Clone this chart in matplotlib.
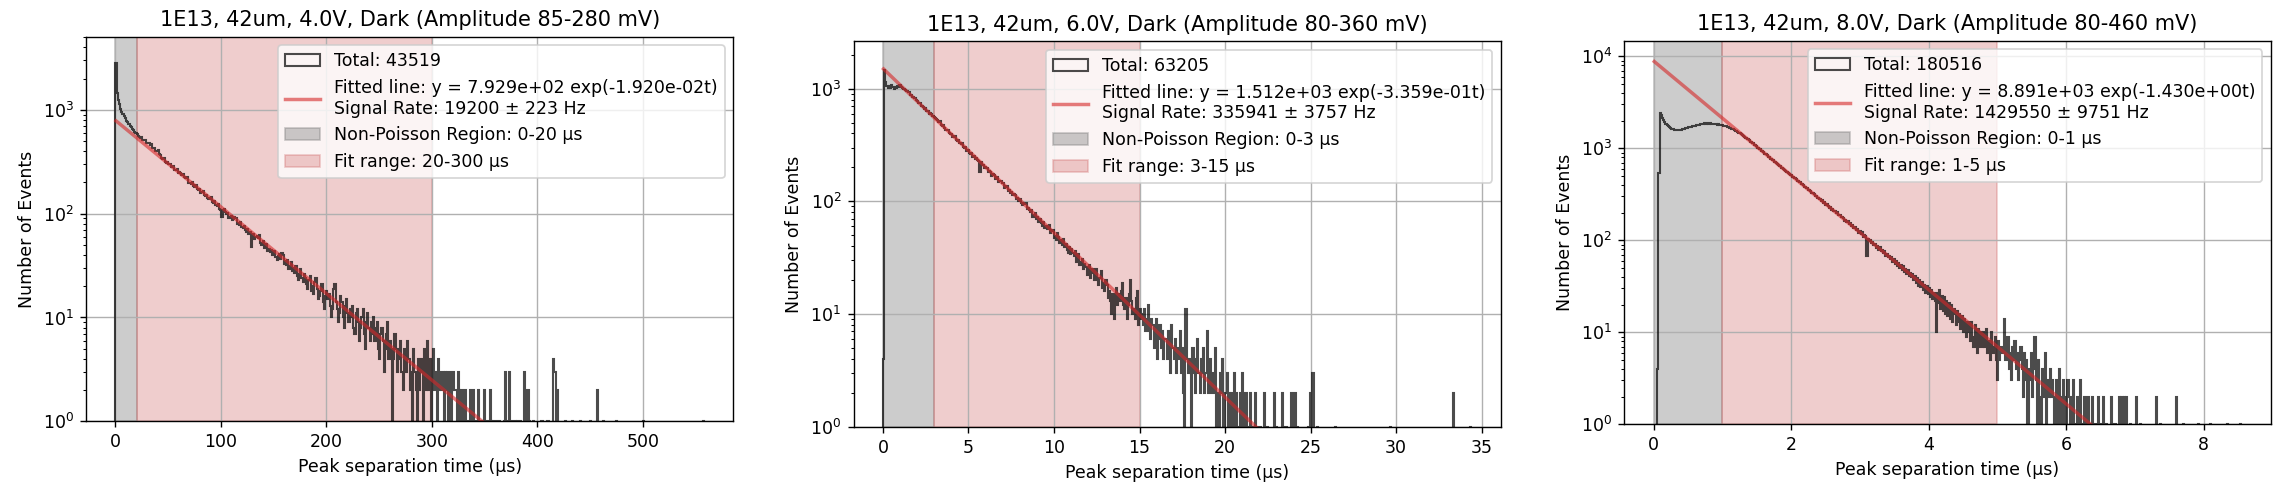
import numpy as np
import matplotlib
matplotlib.use("Agg")
import matplotlib.pyplot as plt

# ---------------- data ----------------
titles = [
    "1E13, 42um, 4.0V, Dark (Amplitude 85-280 mV)",
    "1E13, 42um, 6.0V, Dark (Amplitude 80-360 mV)",
    "1E13, 42um, 8.0V, Dark (Amplitude 80-460 mV)",
]
x_max = [558.0, 34.4, 8.55]          # upper edge of histogram range (µs)
totals = [43519, 63205, 180516]
fit_amp = [7.929e2, 1.512e3, 8.891e3]
fit_rate = [1.920e-2, 3.359e-1, 1.430e0]
rate_hz = [19200, 335941, 1429550]
rate_err = [223, 3757, 9751]
nonpoisson = [(0, 20), (0, 3), (0, 1)]
fit_range = [(20, 300), (3, 15), (1, 5)]
y_top = [5070, 2630, 14800]

counts_4V = [
    2850, 1460, 1240, 1130, 1020, 960, 905, 870, 830, 790, 760, 735, 700, 680, 655, 640, 615, 600, 585, 560,
    545, 541, 548, 512, 509, 515, 478, 481, 476, 462, 466, 431, 428, 434, 405, 401, 409, 372, 369, 345,
    338, 341, 312, 309, 315, 298, 301, 282, 279, 286, 266, 262, 269, 247, 251, 244, 238, 241, 226, 221,
    219, 224, 196, 199, 194, 201, 184, 181, 188, 172, 169, 174, 159, 162, 166, 151, 148, 153, 141, 138,
    143, 146, 129, 127, 132, 121, 118, 123, 112, 109, 92, 108, 111, 103, 99, 101, 90, 93, 96, 86,
    89, 93, 91, 79, 81, 77, 83, 74, 72, 76, 69, 67, 71, 64, 66, 48, 62, 64, 57, 59,
    61, 58, 63, 52, 50, 54, 47, 49, 51, 44, 46, 43, 45, 40, 42, 44, 38, 36, 39, 41,
    37, 42, 40, 33, 35, 32, 36, 29, 31, 34, 28, 30, 27, 31, 25, 23, 26, 29, 24, 22,
    26, 24, 21, 19, 23, 25, 18, 20, 17, 22, 24, 19, 15, 16, 18, 21, 14, 12, 16, 18,
    15, 17, 13, 10, 12, 19, 21, 14, 12, 9, 11, 16, 14, 10, 8, 13, 15, 11, 9, 12,
    10, 13, 8, 7, 11, 12, 9, 6, 8, 10, 12, 7, 5, 9, 11, 8, 6, 9, 7, 10,
    6, 8, 9, 5, 4, 7, 8, 6, 3, 5, 7, 9, 4, 6, 5, 0, 4, 7, 5, 3,
    5, 4, 6, 3, 2, 5, 4, 3, 6, 4, 2, 3, 0, 5, 3, 2, 0, 4, 2, 3,
    4, 1, 5, 3, 2, 6, 2, 4, 1, 3, 5, 2, 3, 1, 4, 2, 3, 2, 3, 1,
    3, 2, 3, 0, 3, 0, 2, 3, 2, 2, 1, 3, 2, 1, 2, 0, 1, 2, 1, 1,
    1, 2, 1, 1, 2, 1, 0, 1, 2, 1, 0, 1, 1, 2, 0, 1, 1, 0, 2, 1,
    0, 1, 0, 1, 0, 0, 1, 0, 0, 0, 1, 3, 0, 1, 3, 0, 1, 0, 0, 1,
    0, 1, 0, 0, 1, 0, 0, 3, 0, 0, 2, 1, 0, 0, 0, 1, 0, 0, 0, 0,
    0, 0, 1, 0, 0, 0, 0, 1, 0, 0, 0, 0, 4, 3, 0, 2, 0, 0, 0, 0,
    0, 0, 1, 0, 0, 0, 0, 0, 1, 0, 0, 0, 0, 0, 0, 1, 0, 0, 0, 0,
    0, 0, 0, 1, 0, 0, 0, 0, 0, 2, 0, 0, 0, 0, 1, 0, 0, 0, 0, 0,
    0, 0, 0, 0, 0, 1, 0, 0, 0, 0, 0, 0, 0, 0, 0, 0, 0, 0, 0, 0,
    0, 0, 0, 0, 0, 0, 0, 0, 1, 0, 0, 0, 0, 0, 0, 0, 0, 0, 0, 0,
    0, 0, 0, 0, 0, 0, 0, 0, 0, 0, 0, 0, 0, 0, 0, 0, 0, 0, 0, 0,
    0, 0, 0, 0, 0, 0, 0, 0, 0, 0, 0, 0, 0, 0, 0, 0, 0, 0, 0, 1,
]

counts_6V = [
    4, 1460, 1150, 1060, 1020, 1045, 1010, 1070, 1030, 995, 1040, 1005, 1060, 1025, 1080, 1035, 1010, 990, 1000, 965,
    948, 931, 925, 872, 869, 851, 823, 820, 788, 774, 752, 749, 708, 702, 689, 661, 668, 631, 628, 600,
    604, 598, 569, 561, 552, 539, 522, 509, 515, 472, 468, 478, 447, 429, 432, 426, 401, 397, 399, 371,
    381, 376, 349, 345, 352, 327, 321, 330, 305, 298, 302, 281, 285, 271, 262, 268, 249, 253, 239, 244,
    231, 228, 181, 222, 208, 211, 196, 201, 198, 183, 187, 181, 168, 173, 170, 158, 161, 166, 149, 152,
    151, 145, 146, 131, 133, 136, 124, 127, 119, 122, 113, 117, 114, 104, 107, 101, 104, 96, 92, 97,
    94, 96, 85, 87, 83, 80, 84, 73, 76, 78, 70, 72, 66, 69, 64, 60, 65, 58, 61, 57,
    59, 62, 52, 54, 56, 47, 49, 45, 52, 48, 43, 45, 41, 46, 39, 42, 37, 35, 39, 34,
    38, 35, 33, 36, 29, 31, 34, 27, 29, 31, 25, 28, 26, 22, 24, 27, 21, 23, 25, 20,
    22, 25, 20, 18, 21, 24, 17, 19, 16, 20, 18, 14, 16, 13, 10, 15, 9, 14, 17, 12,
    15, 13, 16, 19, 12, 11, 14, 9, 12, 15, 20, 13, 10, 11, 9, 14, 16, 8, 11, 9,
    10, 8, 11, 7, 9, 12, 7, 6, 9, 8, 5, 7, 9, 4, 6, 8, 5, 7, 4, 6,
    6, 4, 7, 5, 3, 8, 5, 4, 6, 3, 5, 4, 7, 3, 5, 2, 0, 11, 4, 3,
    4, 3, 0, 5, 3, 2, 4, 6, 3, 2, 4, 3, 5, 2, 3, 7, 2, 3, 4, 2,
    3, 2, 5, 1, 2, 0, 3, 2, 4, 1, 0, 2, 3, 1, 2, 0, 2, 1, 3, 0,
    2, 1, 0, 2, 1, 3, 0, 1, 2, 0, 1, 0, 2, 1, 0, 1, 2, 0, 1, 0,
    1, 0, 0, 0, 2, 0, 1, 0, 0, 0, 0, 0, 2, 0, 1, 0, 0, 0, 0, 2,
    0, 0, 1, 0, 0, 0, 0, 2, 1, 2, 2, 0, 1, 0, 0, 0, 0, 0, 0, 0,
    0, 1, 0, 2, 0, 3, 0, 0, 0, 1, 0, 0, 0, 0, 0, 0, 0, 0, 0, 0,
    0, 0, 0, 0, 1, 0, 0, 0, 0, 0, 0, 0, 0, 0, 0, 0, 0, 0, 0, 0,
    0, 0, 0, 0, 0, 0, 0, 0, 0, 0, 0, 0, 0, 0, 0, 0, 0, 0, 0, 0,
    0, 0, 0, 0, 0, 0, 0, 0, 0, 0, 0, 1, 0, 0, 0, 0, 0, 0, 0, 0,
    0, 0, 0, 0, 0, 0, 0, 0, 0, 0, 0, 0, 0, 0, 0, 0, 0, 0, 0, 0,
    0, 0, 0, 0, 0, 0, 0, 0, 0, 0, 0, 0, 0, 0, 0, 0, 0, 0, 0, 0,
    0, 0, 0, 0, 2, 0, 0, 0, 0, 0, 0, 0, 0, 0, 0, 0, 0, 0, 0, 1,
]

counts_8V = [
    0, 0, 0, 4, 540, 2440, 2310, 2160, 2040, 1950, 1860, 1800, 1745, 1700, 1672, 1640, 1625, 1602, 1596, 1584,
    1578, 1590, 1575, 1602, 1611, 1634, 1628, 1660, 1672, 1689, 1701, 1722, 1715, 1748, 1760, 1752, 1789, 1801, 1794, 1822,
    1835, 1858, 1842, 1871, 1855, 1880, 1862, 1848, 1875, 1851, 1839, 1860, 1827, 1842, 1815, 1820, 1795, 1801, 1772, 1760,
    1745, 1730, 1712, 1698, 1671, 1655, 1628, 1606, 1580, 1555, 1531, 1508, 1476, 1460, 1441, 1398, 1376, 1335, 1310, 1268,
    1248, 1229, 1176, 1160, 1131, 1089, 1077, 1052, 1012, 1003, 981, 941, 929, 912, 873, 866, 842, 811, 806, 774,
    768, 751, 719, 713, 694, 668, 662, 648, 619, 614, 601, 577, 571, 559, 537, 531, 511, 507, 486, 482,
    472, 461, 440, 437, 429, 409, 407, 398, 379, 378, 369, 351, 353, 344, 328, 327, 319, 304, 305, 290,
    291, 284, 270, 272, 257, 259, 243, 246, 239, 226, 232, 214, 221, 208, 206, 196, 201, 187, 189, 178,
    179, 174, 164, 168, 157, 161, 149, 154, 143, 146, 135, 139, 129, 133, 121, 125, 117, 122, 110, 114,
    111, 68, 104, 99, 102, 93, 96, 88, 92, 83, 87, 79, 84, 76, 79, 72, 76, 68, 71, 66,
    68, 63, 66, 58, 62, 55, 59, 52, 57, 50, 54, 47, 52, 45, 49, 43, 47, 41, 44, 40,
    43, 37, 41, 34, 39, 32, 37, 31, 35, 29, 33, 27, 32, 26, 30, 24, 29, 23, 27, 22,
    10, 27, 21, 29, 18, 25, 17, 24, 16, 22, 15, 21, 14, 20, 13, 18, 16, 12, 17, 13,
    16, 11, 15, 10, 14, 11, 9, 13, 10, 8, 13, 9, 7, 12, 8, 6, 11, 7, 10, 7,
    10, 7, 9, 11, 6, 8, 5, 10, 7, 6, 9, 5, 3, 8, 5, 7, 6, 6, 14, 5,
    5, 9, 4, 6, 3, 7, 5, 8, 4, 6, 3, 5, 7, 4, 2, 6, 3, 5, 0, 4,
    3, 6, 2, 4, 9, 3, 0, 5, 2, 0, 4, 3, 2, 6, 1, 3, 2, 4, 2, 3,
    2, 0, 3, 1, 2, 4, 0, 2, 3, 1, 2, 0, 3, 2, 1, 0, 2, 3, 1, 0,
    2, 1, 0, 3, 1, 0, 2, 0, 1, 2, 0, 1, 0, 2, 0, 1, 0, 0, 2, 0,
    1, 0, 2, 0, 0, 1, 0, 0, 0, 2, 0, 0, 1, 0, 0, 0, 2, 0, 2, 0,
    2, 0, 2, 0, 0, 1, 0, 0, 0, 0, 2, 0, 0, 0, 1, 0, 0, 0, 0, 0,
    0, 0, 0, 0, 0, 0, 0, 2, 0, 0, 0, 1, 0, 0, 0, 0, 0, 0, 0, 0,
    0, 0, 0, 0, 2, 0, 0, 0, 0, 0, 1, 0, 0, 0, 0, 0, 0, 0, 0, 0,
    0, 0, 0, 1, 0, 0, 0, 0, 0, 0, 0, 0, 0, 1, 0, 0, 0, 0, 0, 0,
    0, 0, 0, 0, 0, 0, 0, 0, 1, 0, 0, 0, 0, 0, 0, 0, 0, 0, 0, 1,
]

all_counts = [counts_4V, counts_6V, counts_8V]

# ---------------- layout ----------------
W, H, DPI = 2283, 499, 125
fig = plt.figure(figsize=(W / DPI, H / DPI), dpi=DPI)
# (left px, bottom px from top, width px, height px)
rects = [(86, 421.3, 647.3, 384.6), (853.5, 426.7, 647.3, 385.4), (1624.3, 424.3, 646.4, 383.6)]

hist_color = "black"
fit_color = "#d62728"
gray_color = "gray"
pink_color = "indianred"

for k in range(3):
    l, b, w, h = rects[k]
    ax = fig.add_axes([l / W, (H - b) / H, w / W, h / H])
    counts = np.asarray(all_counts[k], dtype=float)
    edges = np.linspace(0.0, x_max[k], len(counts) + 1)
    centers = 0.5 * (edges[:-1] + edges[1:])

    ax.hist(centers, bins=edges, weights=counts, histtype="step",
            color=hist_color, alpha=0.7, lw=1.2, label=f"Total: {totals[k]}")
    y_fit = fit_amp[k] * np.exp(-fit_rate[k] * centers)
    ax.plot(centers, y_fit, color=fit_color, alpha=0.6, lw=2,
            label=(f"Fitted line: y = {fit_amp[k]:.3e} exp(-{fit_rate[k]:.3e}t)\n"
                   f"Signal Rate: {rate_hz[k]} \u00b1 {rate_err[k]} Hz"))
    a0, a1 = nonpoisson[k]
    ax.axvspan(a0, a1, color=gray_color, alpha=0.4,
               label=f"Non-Poisson Region: {a0}-{a1} \u00b5s")
    f0, f1 = fit_range[k]
    ax.axvspan(f0, f1, color=pink_color, alpha=0.3,
               label=f"Fit range: {f0}-{f1} \u00b5s")

    ax.set_yscale("log")
    ax.set_xlim(-0.05 * x_max[k], 1.05 * x_max[k])
    ax.set_ylim(1, y_top[k])
    ax.grid(True)
    ax.set_title(titles[k], fontsize=12)
    ax.set_xlabel("Peak separation time (\u00b5s)", fontsize=10)
    ax.set_ylabel("Number of Events", fontsize=10)
    ax.legend(loc="upper right", fontsize=10)

fig.savefig("out.png", dpi=DPI)
